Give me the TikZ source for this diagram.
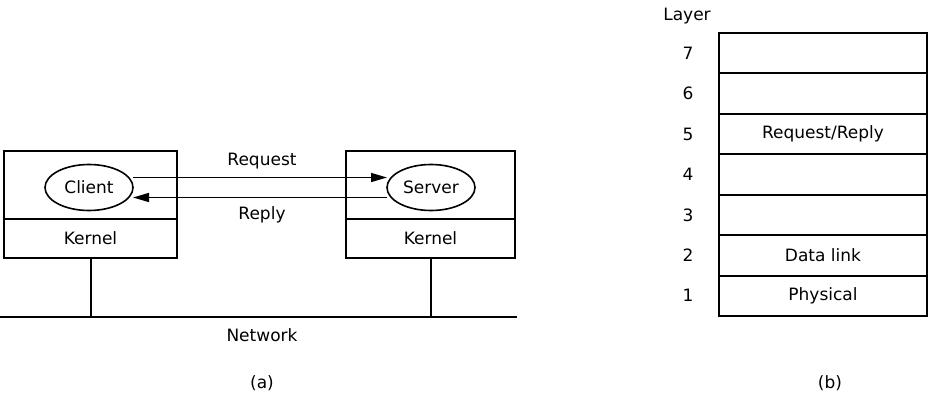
\documentclass[tikz,border=0pt]{standalone}
\usepackage{fontspec}
\setmainfont{DejaVu Sans}
\usepackage{tikz}
\usetikzlibrary{shapes.geometric,arrows.meta}

\begin{document}
\begin{tikzpicture}[x=1pt, y=-1pt,
  every node/.style={font=\fontsize{17}{20}\selectfont, inner sep=0pt, outer sep=0pt},
  hostbox/.style={draw, line width=2pt, minimum width=#1, minimum height=68},
  kernbox/.style={draw, line width=2pt, minimum width=#1, minimum height=39},
  proc/.style={draw, ellipse, line width=1.6pt, minimum width=88, minimum height=46},
  layerbox/.style={draw, line width=2pt, minimum width=208, minimum height=40.43},
  msg/.style={line width=1.6pt, -{Triangle[length=16pt,width=9pt]}}]
\useasboundingbox (0,0) rectangle (932,402);

% (a) client and server
\node[hostbox=173] (cbox) at (90.5,185) {};
\node[kernbox=173] (ckern) at (90.5,238.5) {Kernel};
\node[hostbox=169] (sbox) at (430.5,185) {};
\node[kernbox=169] (skern) at (430.5,238.5) {Kernel};

\node[proc] (client) at (89,187.5) {Client};
\node[proc] (server) at (431,187.5) {Server};

\draw[msg] ([yshift=10pt]client.east) -- ([yshift=10pt]client.east -| server.west);
\draw[msg] ([yshift=-10pt]server.west) -- ([yshift=-10pt]server.west -| client.east);
\node (req) at (262,161) {Request};
\node (rep) at (262,215) {Reply};

\coordinate (netL) at (0,317);
\coordinate (netR) at (517,317);
\draw[line width=2pt] (netL) -- (netR);
\draw[line width=2pt] (ckern.south) -- (ckern.south |- netL);
\draw[line width=2pt] (skern.south) -- (skern.south |- netL);
\node (net) at (262,335) {Network};
\node (capa) at (262,383) {(a)};

% (b) layers
\node (layer) at (687,16) {Layer};
\foreach \n/\txt in {1/Physical, 2/Data link, 3/{}, 4/{}, 5/{Request/Reply}, 6/{}, 7/{}} {
  \node[layerbox] (row\n) at (823,316-\n*40.43+20.21) {\txt};
  \node (num\n) at (688,316-\n*40.43+20.21) {\n};
}
\node (capb) at (830,383) {(b)};
\end{tikzpicture}
\end{document}
